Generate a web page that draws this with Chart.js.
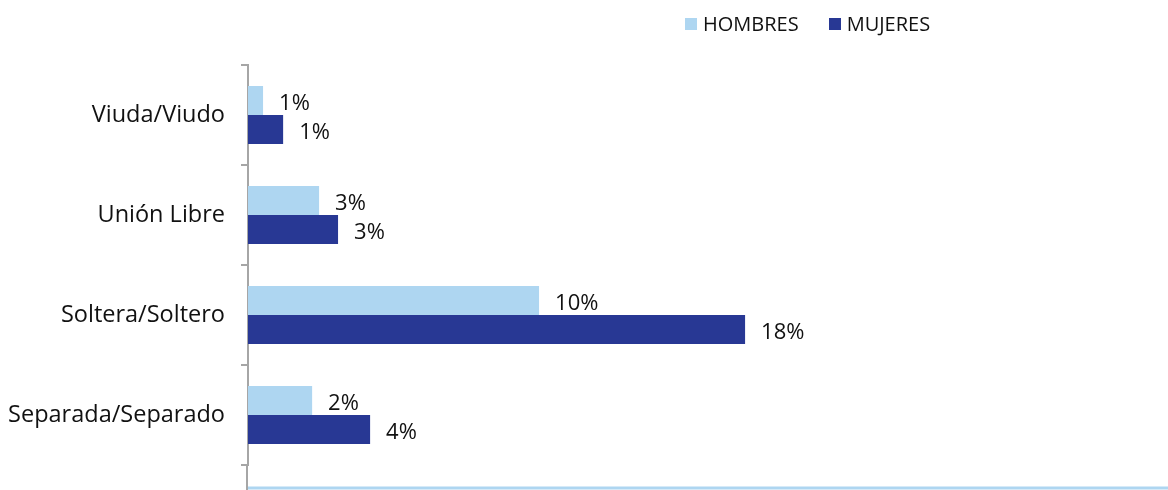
<!DOCTYPE html>
<html>
<head>
<meta charset="utf-8">
<script src="https://cdn.jsdelivr.net/npm/chart.js@4"></script>
<style>
  html, body { margin: 0; padding: 0; background: #fff; }
  #wrap { position: relative; width: 1168px; height: 490px; }
  #legend {
    position: absolute; top: 10px; left: 685px;
    font: 20px "Open Sans", sans-serif; color: #111;
    display: flex; align-items: center;
  }
  #legend span.box { display: inline-block; width: 12px; height: 12px; margin-right: 6px; }
  #legend span.item { display: inline-flex; align-items: center; margin-right: 30px; }
</style>
</head>
<body>
<div id="wrap">
  <canvas id="chart" width="1168" height="490"></canvas>
  <div id="legend"></div>
</div>
<script>
const categories = ["Viuda/Viudo", "Unión Libre", "Soltera/Soltero", "Separada/Separado"];
const hombres = [0.54, 2.55, 10.44, 2.30];
const mujeres = [1.26, 3.23, 17.83, 4.38];
const seriesNames = ["HOMBRES", "MUJERES"];
const colors = ["#AED6F1", "#283894"];

const legend = document.getElementById("legend");
seriesNames.forEach((name, i) => {
  const item = document.createElement("span");
  item.className = "item";
  item.innerHTML = `<span class="box" style="background:${colors[i]}"></span>${name}`;
  legend.appendChild(item);
});

// value labels to the right of each bar
const barLabels = {
  id: "barLabels",
  afterDatasetsDraw(chart) {
    const ctx = chart.ctx;
    ctx.save();
    ctx.font = '22px "Open Sans", sans-serif';
    ctx.fillStyle = "#111";
    ctx.textAlign = "left";
    ctx.textBaseline = "middle";
    chart.data.datasets.forEach((ds, i) => {
      chart.getDatasetMeta(i).data.forEach((bar, j) => {
        ctx.fillText(Math.round(ds.data[j]) + "%", bar.x + 16, bar.y + 3);
      });
    });
    ctx.restore();
  }
};

// axis lines as in the original: y axis runs past the last tick, x axis at the bottom edge
const axisLines = {
  id: "axisLines",
  afterDraw(chart) {
    const ctx = chart.ctx;
    const a = chart.chartArea;
    ctx.save();
    ctx.strokeStyle = "#A6A6A6";
    ctx.lineWidth = 2;
    ctx.beginPath();
    ctx.moveTo(a.left - 1, a.bottom);
    ctx.lineTo(a.left - 1, 490);
    ctx.stroke();
    ctx.strokeStyle = "#AED6F1";
    ctx.lineWidth = 3;
    ctx.beginPath();
    ctx.moveTo(a.left, 488);
    ctx.lineTo(a.right, 488);
    ctx.stroke();
    ctx.restore();
  }
};

new Chart(document.getElementById("chart"), {
  type: "bar",
  data: {
    labels: categories,
    datasets: [
      { label: seriesNames[0], data: hombres, backgroundColor: colors[0] },
      { label: seriesNames[1], data: mujeres, backgroundColor: colors[1] }
    ]
  },
  options: {
    indexAxis: "y",
    responsive: false,
    animation: false,
    layout: { padding: { top: 65, bottom: 25, left: 0, right: 0 } },
    datasets: { bar: { categoryPercentage: 0.58, barPercentage: 1 } },
    plugins: {
      legend: { display: false },
      tooltip: { enabled: false }
    },
    scales: {
      x: { display: false, min: 0, max: 33 },
      y: {
        afterFit(scale) {
          scale.width = 248;
          scale.paddingTop = 0;
          scale.paddingBottom = 0;
        },
        border: { display: true, color: "#A6A6A6", width: 2 },
        grid: {
          offset: true,
          drawOnChartArea: false,
          drawTicks: true,
          tickLength: 7,
          color: "#A6A6A6",
          lineWidth: 2
        },
        ticks: {
          padding: 16,
          color: "#111",
          font: { family: "Open Sans", size: 23.5 }
        }
      }
    }
  },
  plugins: [barLabels, axisLines]
});
</script>
</body>
</html>
